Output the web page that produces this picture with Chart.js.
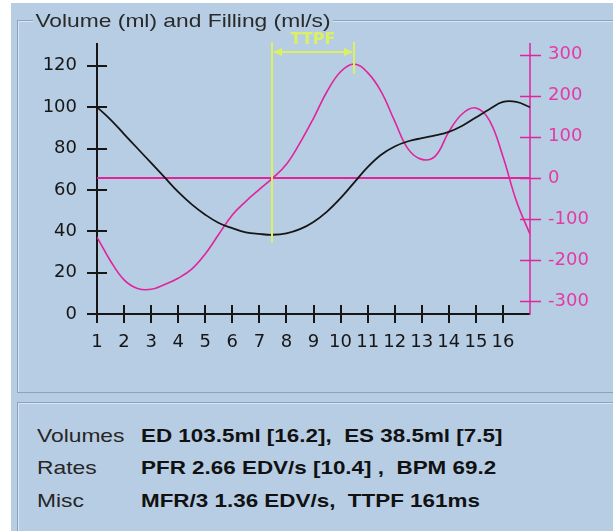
<!DOCTYPE html>
<html>
<head>
<meta charset="utf-8">
<script src="https://cdn.jsdelivr.net/npm/chart.js@4.4.1/dist/chart.umd.min.js"></script>
<style>
  html, body { margin: 0; padding: 0; background: #fff; }
  body { width: 613px; height: 531px; position: relative; overflow: hidden;
         font-family: "Liberation Sans", Arial, sans-serif; }
  #bg { position: absolute; left: 11px; top: 3px; right: 0; bottom: 0; background: #b7cde4; }
  .etch { position: absolute; box-sizing: border-box; }
  .dark { border: 1px solid #8aa2bf; }
  .light { border: 1px solid #d8e6f3; }
  #chartBox { position: absolute; left: 0; top: 0; width: 613px; height: 392px; z-index: 1; }
  .txt { position: absolute; white-space: pre; font-size: 19px; line-height: 20px;
         transform: scaleX(1.2); transform-origin: left center; color: #262626; }
  .b { font-weight: bold; color: #111; transform: scaleX(1.18); }
  #title { left: 33px; top: 11px; background: #b7cde4; padding: 0 2px; z-index: 2; color: #2a2a2a; }
</style>
</head>
<body>
<div id="bg"></div>
<!-- top panel, etched border -->
<div class="etch light" style="left:18px; top:21px; width:640px; height:372px;"></div>
<div class="etch dark"  style="left:17px; top:20px; width:640px; height:373px;"></div>
<!-- bottom panel -->
<div class="etch light" style="left:18px; top:403px; width:640px; height:200px;"></div>
<div class="etch dark"  style="left:17px; top:402px; width:640px; height:200px;"></div>

<div id="chartBox"><canvas id="volChart" width="613" height="392"></canvas></div>
<div class="txt" id="title">Volume (ml) and Filling (ml/s)</div>

<div class="txt" style="left:37px; top:426px;">Volumes</div>
<div class="txt b" style="left:141px; top:426px;">ED 103.5ml [16.2],  ES 38.5ml [7.5]</div>
<div class="txt" style="left:37px; top:458px;">Rates</div>
<div class="txt b" style="left:141px; top:458px;">PFR 2.66 EDV/s [10.4] ,  BPM 69.2</div>
<div class="txt" style="left:37px; top:491px;">Misc</div>
<div class="txt b" style="left:141px; top:491px;">MFR/3 1.36 EDV/s,  TTPF 161ms</div>

<script>
const frames = [1, 1.5, 2, 2.5, 3, 3.5, 4, 4.5, 5, 5.5, 6, 6.5, 7, 7.5, 8, 8.5,
                9, 9.5, 10, 10.5, 11, 11.5, 12, 12.5, 13, 13.5, 14, 14.5, 15, 15.5, 16, 16.5, 17];
// volume (ml), left axis
const volume = [100, 94, 87, 80, 73, 66, 59, 53, 48, 44, 41.5, 39.5, 38.7, 38.3, 39, 41,
                44.5, 49.5, 56, 63.5, 71, 77, 81, 83.5, 85, 86.3, 88, 91, 95, 99, 102.5, 102.5, 100];
// filling rate (ml/s), right axis
const filling = [-144, -202, -248, -269, -271, -259, -244, -222, -185, -137, -90, -57, -28, 0, 33, 85,
                 145, 210, 258, 277, 256, 210, 138, 70, 45, 53, 112, 156, 170, 140, 52, -57, -137];

const xTicks = [1, 2, 3, 4, 5, 6, 7, 8, 9, 10, 11, 12, 13, 14, 15, 16];
const volTicks = [0, 20, 40, 60, 80, 100, 120];
const fillTicks = [-300, -200, -100, 0, 100, 200, 300];
const xRange = [1, 17];
const volRange = [0, 131];
const fillRange = [-331, 328];
const zeroLine = [0, 0];

// time to peak filling, in frames
const ttpfStart = 7.47;
const ttpfPeak = 10.5;

const PINK = '#e0249a';
const YELLOW = '#dcf063';
const INK = '#161616';

// axes drawn as lines with crossing tick marks
const crossAxes = {
  id: 'crossAxes',
  beforeDatasetsDraw(chart) {
    const { ctx, chartArea: a, scales: { x, y, y2 } } = chart;
    const L = Math.round(a.left), R = Math.round(a.right), T = Math.round(a.top), B = Math.round(a.bottom);
    ctx.save();
    ctx.lineWidth = 2;
    ctx.strokeStyle = INK;
    ctx.beginPath();
    ctx.moveTo(L, T); ctx.lineTo(L, B + 9);
    ctx.moveTo(L - 10, B); ctx.lineTo(R, B);
    y.ticks.forEach(t => {
      const p = Math.round(y.getPixelForValue(t.value));
      ctx.moveTo(L - 10, p); ctx.lineTo(L + 10, p);
    });
    x.ticks.forEach(t => {
      const p = Math.round(x.getPixelForValue(t.value));
      ctx.moveTo(p, B - 9); ctx.lineTo(p, B + 9);
    });
    ctx.stroke();

    ctx.strokeStyle = PINK;
    ctx.lineWidth = 1.5;
    ctx.beginPath();
    ctx.moveTo(R, T); ctx.lineTo(R, B + 1);
    y2.ticks.forEach(t => {
      const p = Math.round(y2.getPixelForValue(t.value)) + 0.5;
      ctx.moveTo(R - 10, p); ctx.lineTo(R + 11, p);
    });
    ctx.stroke();
    ctx.restore();
  }
};

// TTPF marker: two yellow verticals with a double arrow and label
const ttpfMarker = {
  id: 'ttpfMarker',
  afterDatasetsDraw(chart) {
    const { ctx, chartArea: a, scales: { x, y, y2 } } = chart;
    const xs = Math.round(x.getPixelForValue(ttpfStart));
    const xp = Math.round(x.getPixelForValue(ttpfPeak));
    const top = Math.round(a.top) - 1;
    const lowEnd = y.getPixelForValue(Math.min(...volume)) + 8;
    const peakEnd = y2.getPixelForValue(Math.max(...filling)) + 10;
    const ay = top + 10;
    ctx.save();
    ctx.strokeStyle = YELLOW;
    ctx.fillStyle = YELLOW;
    ctx.lineWidth = 2;
    ctx.beginPath();
    ctx.moveTo(xs, top); ctx.lineTo(xs, lowEnd);
    ctx.moveTo(xp, top); ctx.lineTo(xp, peakEnd);
    ctx.moveTo(xs + 2, ay); ctx.lineTo(xp - 2, ay);
    ctx.stroke();
    ctx.beginPath();
    ctx.moveTo(xs + 1, ay); ctx.lineTo(xs + 10, ay - 4); ctx.lineTo(xs + 10, ay + 4); ctx.closePath();
    ctx.moveTo(xp - 1, ay); ctx.lineTo(xp - 10, ay - 4); ctx.lineTo(xp - 10, ay + 4); ctx.closePath();
    ctx.fill();
    ctx.font = 'bold 16px "DejaVu Sans"';
    ctx.textAlign = 'center';
    ctx.textBaseline = 'middle';
    ctx.fillText('TTPF', (xs + xp) / 2, top - 2);
    ctx.restore();
  }
};

const tickFont = { family: 'DejaVu Sans', size: 18 };

new Chart(document.getElementById('volChart').getContext('2d'), {
  type: 'line',
  data: {
    datasets: [
      {
        label: 'Volume (ml)',
        data: frames.map((f, i) => ({ x: f, y: volume[i] })),
        yAxisID: 'y',
        borderColor: INK,
        borderWidth: 1.8,
        pointRadius: 0,
        tension: 0.4
      },
      {
        label: 'Filling (ml/s)',
        data: frames.map((f, i) => ({ x: f, y: filling[i] })),
        yAxisID: 'y2',
        borderColor: PINK,
        borderWidth: 1.6,
        pointRadius: 0,
        tension: 0.4
      },
      {
        label: 'zero',
        data: xRange.map((f, i) => ({ x: f, y: zeroLine[i] })),
        yAxisID: 'y2',
        borderColor: PINK,
        borderWidth: 2,
        pointRadius: 0
      }
    ]
  },
  options: {
    responsive: false,
    animation: false,
    devicePixelRatio: 1,
    layout: { padding: { top: 43, left: 0, right: 0, bottom: 0 } },
    plugins: { legend: { display: false }, tooltip: { enabled: false } },
    scales: {
      x: {
        type: 'linear',
        min: xRange[0],
        max: xRange[1],
        grid: { display: false, drawTicks: false },
        border: { display: false },
        afterBuildTicks: s => { s.ticks = xTicks.map(v => ({ value: v })); },
        afterFit: s => { s.height = 78; },
        ticks: {
          autoSkip: false, maxRotation: 0, includeBounds: false,
          padding: 18, color: INK, font: tickFont
        }
      },
      y: {
        position: 'left',
        min: volRange[0],
        max: volRange[1],
        grid: { display: false, drawTicks: false },
        border: { display: false },
        afterBuildTicks: s => { s.ticks = volTicks.map(v => ({ value: v })); },
        afterFit: s => { s.width = 97; },
        ticks: { padding: 20, color: INK, font: tickFont }
      },
      y2: {
        position: 'right',
        min: fillRange[0],
        max: fillRange[1],
        grid: { display: false, drawTicks: false },
        border: { display: false },
        afterBuildTicks: s => { s.ticks = fillTicks.map(v => ({ value: v })); },
        afterFit: s => { s.width = 83; },
        ticks: { padding: 18, color: '#e33aa6', font: tickFont }
      }
    }
  },
  plugins: [crossAxes, ttpfMarker]
});
</script>
</body>
</html>
